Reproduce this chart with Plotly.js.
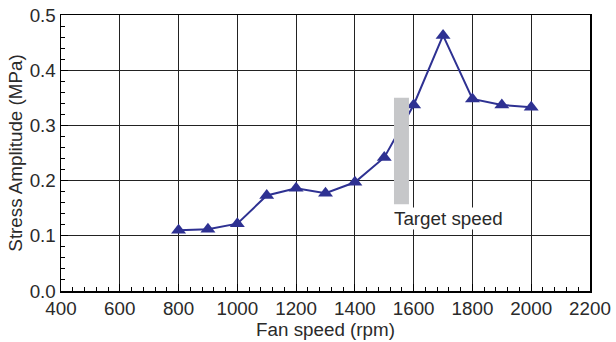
<!DOCTYPE html>
<html><head><meta charset="utf-8">
<script src="https://cdn.plot.ly/plotly-3.0.1.min.js"></script>
<style>html,body{margin:0;padding:0;background:#fff}#chart{width:616px;height:342px}</style>
</head><body><div id="chart"></div>
<script>
const fanSpeed = [800, 900, 1000, 1100, 1200, 1300, 1400, 1500, 1600, 1700, 1800, 1900, 2000];
const stressAmplitude = [0.110, 0.112, 0.122, 0.173, 0.186, 0.177, 0.197, 0.242, 0.337, 0.463, 0.348, 0.337, 0.333];
const targetSpeedRange = [1533, 1584];
const targetStressRange = [0.157, 0.350];
const targetLabel = "Target speed";
const xTicks = [400, 600, 800, 1000, 1200, 1400, 1600, 1800, 2000, 2200];
const yTicks = [0.0, 0.1, 0.2, 0.3, 0.4, 0.5];

const font = {family: "Liberation Sans, Arial, sans-serif", size: 18.8, color: "#2a2a2a"};
const trace = {
  x: fanSpeed, y: stressAmplitude, type: "scatter", mode: "lines+markers",
  line: {color: "#2e3192", width: 2},
  marker: {symbol: "triangle-up", size: 13, color: "#2e3192"},
  hoverinfo: "skip", showlegend: false
};
const layout = {
  width: 616, height: 342,
  margin: {l: 61, r: 26, t: 15, b: 51},
  paper_bgcolor: "#fff", plot_bgcolor: "#fff",
  font: font,
  xaxis: {
    range: [400, 2200], tickvals: xTicks, ticktext: xTicks.map(String),
    showgrid: true, gridcolor: "#222", gridwidth: 1,
    showline: true, linecolor: "#000", linewidth: 1.5, mirror: true,
    ticks: "inside", ticklen: 7, tickcolor: "#000",
    minor: {dtick: 40, tick0: 400, ticks: "inside", ticklen: 4, tickcolor: "#000", showgrid: false},
    zeroline: false, tickfont: font,
    title: {text: "Fan speed (rpm)", font: font, standoff: 0}
  },
  yaxis: {
    range: [0, 0.5], tickvals: yTicks, ticktext: yTicks.map(v => v.toFixed(1)),
    showgrid: true, gridcolor: "#222", gridwidth: 1,
    showline: true, linecolor: "#000", linewidth: 1.5, mirror: true,
    ticks: "inside", ticklen: 7, tickcolor: "#000",
    minor: {dtick: 0.02, tick0: 0, ticks: "inside", ticklen: 4, tickcolor: "#000", showgrid: false},
    zeroline: false, tickfont: font,
    title: {text: "Stress Amplitude (MPa)", font: font, standoff: 2}
  },
  shapes: [{
    type: "rect", xref: "x", yref: "y",
    x0: targetSpeedRange[0], x1: targetSpeedRange[1],
    y0: targetStressRange[0], y1: targetStressRange[1],
    fillcolor: "#c6c7c9", line: {width: 0}, layer: "above"
  }],
  annotations: [{
    x: targetSpeedRange[0] - 5, y: 0.132, xref: "x", yref: "y",
    text: targetLabel, showarrow: false, xanchor: "left", yanchor: "middle",
    font: font, bgcolor: "#fff", borderpad: 0
  }]
};
Plotly.newPlot("chart", [trace], layout, {displayModeBar: false, staticPlot: true});
</script></body></html>
